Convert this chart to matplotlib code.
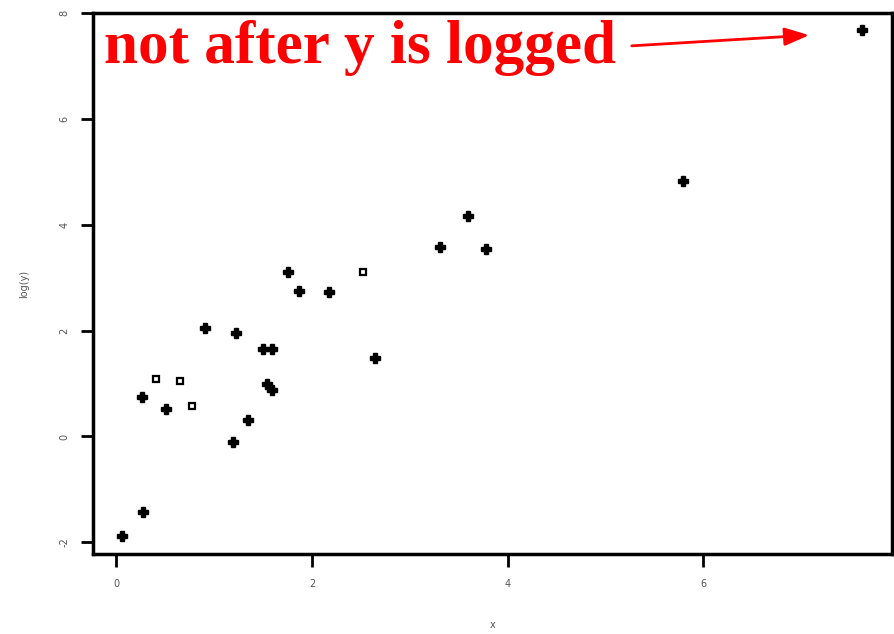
import numpy as np
import matplotlib.pyplot as plt

# scatter of log(y) against x; filled and open symbols
x_filled = [1.75, 1.87, 2.17, 0.91, 1.22, 1.50, 1.59, 2.64, 0.26, 1.54, 1.59,
            0.51, 1.34, 1.19, 0.27, 0.06, 5.79, 3.59, 3.31, 3.78, 7.62]
y_filled = [3.10, 2.74, 2.72, 2.04, 1.96, 1.66, 1.66, 1.49, 0.74, 1.00, 0.88,
            0.52, 0.32, -0.10, -1.43, -1.88, 4.82, 4.17, 3.57, 3.54, 7.68]
x_open = [2.52, 0.40, 0.65, 0.77]
y_open = [3.10, 1.09, 1.05, 0.58]

xticks = [0, 2, 4, 6]
yticks = [-2, 0, 2, 4, 6, 8]
note = "not after y is logged"

fig = plt.figure(figsize=(8.95, 6.34), dpi=100)
ax = fig.add_axes([0.1039, 0.1262, 0.8927, 0.8533])

ax.plot(x_filled, y_filled, 'P', color='black', markersize=7, linestyle='none')
ax.plot(x_open, y_open, 's', markerfacecolor='white', markeredgecolor='black',
        markeredgewidth=1.6, markersize=5, linestyle='none')

ax.set_xlim(-0.24, 7.93)
ax.set_ylim(-2.22, 8.0)
ax.set_xticks(xticks)
ax.set_yticks(yticks)
ax.set_xticklabels([str(t) for t in xticks], fontsize=7, color='#555555')
ax.set_yticklabels([str(t) for t in yticks], fontsize=7, color='#555555',
                   rotation=90, va='center')
ax.tick_params(direction='out', length=9, width=2)
ax.tick_params(axis='x', pad=9)
ax.tick_params(axis='y', pad=8)
for s in ax.spines.values():
    s.set_linewidth(2.5)

ax.set_xlabel('x', fontsize=7, color='#555555', labelpad=22)
ax.set_ylabel('log(y)', fontsize=7, color='#555555', labelpad=22)

# red annotation with arrow
fig.text(104 / 895, 571 / 634, note, family='Liberation Serif',
         fontweight='bold', fontsize=44, color='red', va='baseline', ha='left')
ax.annotate('', xy=(812, 599), xycoords='figure pixels',
            xytext=(629, 588), textcoords='figure pixels',
            arrowprops=dict(arrowstyle='-|>,head_length=1.5,head_width=0.55',
                            color='red', lw=2))

fig.savefig('out.png', dpi=100)
